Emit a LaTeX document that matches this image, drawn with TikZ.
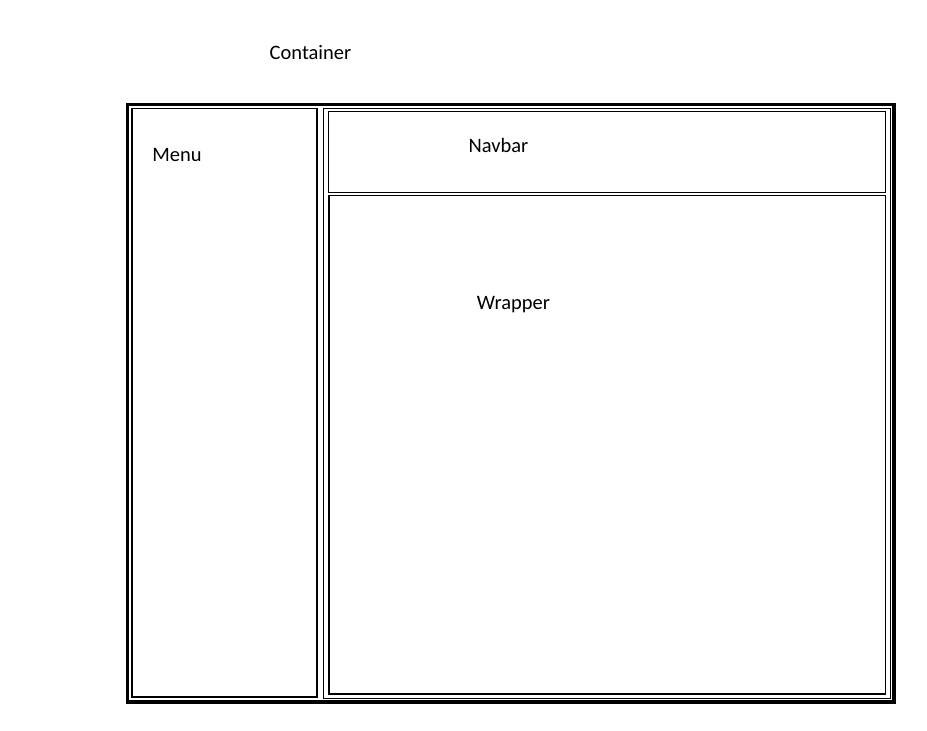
\documentclass[tikz,border=0pt]{standalone}
\usepackage{fontspec}
\setmainfont{Carlito}
\begin{document}
\begin{tikzpicture}[x=1pt,y=-1pt,
  thinbox/.style={draw=black,line width=1.2pt},
  thickbox/.style={draw=black,line width=3.5pt},
  lbl/.style={font=\fontsize{20.5}{23}\selectfont,inner sep=0pt,anchor=center}]
\useasboundingbox[fill=white] (0,0) rectangle (927,731);
\draw[thickbox] (127.5,104.5) rectangle (894,702);
\draw[thinbox] (132,108.5) rectangle (317,697);
\draw[thinbox] (323.5,108.5) rectangle (890.5,698.5);
\draw[thinbox] (328.5,111.5) rectangle (885.5,192.5);
\draw[thinbox] (329,195.5) rectangle (885.5,694);
\node[lbl] (container) at (310.5,53) {Container};
\node[lbl] (menu) at (177,155) {Menu};
\node[lbl] (navbar) at (498.5,145) {Navbar};
\node[lbl] (wrapper) at (513.5,305) {Wrapper};
\end{tikzpicture}
\end{document}
